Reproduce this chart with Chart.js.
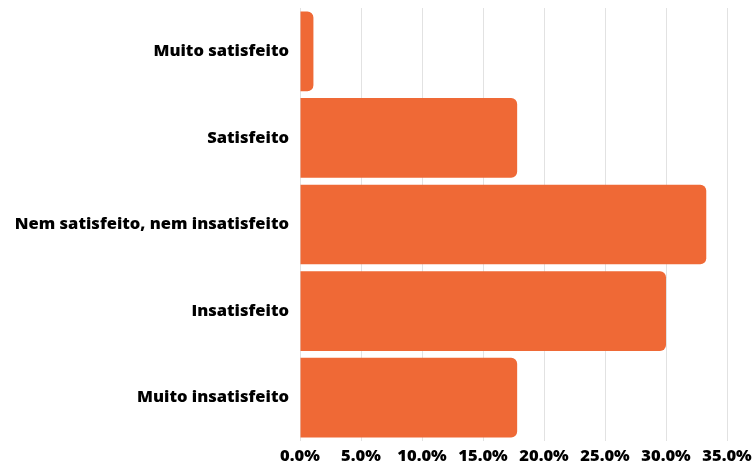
<!DOCTYPE html>
<html>
<head>
<meta charset="utf-8">
<script src="https://cdn.jsdelivr.net/npm/chart.js@4/dist/chart.umd.min.js"></script>
<style>
  html, body { margin: 0; padding: 0; background: #fff; }
  #wrap { width: 752px; height: 461px; }
</style>
</head>
<body>
<div id="wrap"><canvas id="barChart"></canvas></div>
<script>
// categories and values (percent)
const categories = ["Muito satisfeito", "Satisfeito", "Nem satisfeito, nem insatisfeito", "Insatisfeito", "Muito insatisfeito"];
const percentValues = [1.1, 17.8, 33.3, 30.0, 17.8];
const tickMax = 35;
const tickStep = 5;

new Chart("barChart", {
  type: "bar",
  data: {
    labels: categories,
    datasets: [{
      data: percentValues,
      backgroundColor: "#EF6936",
      borderRadius: { topRight: 6, bottomRight: 6 },
      borderSkipped: false,
      barPercentage: 0.92,
      categoryPercentage: 1
    }]
  },
  options: {
    indexAxis: "y",
    responsive: true,
    maintainAspectRatio: false,
    animation: false,
    layout: { padding: { top: 8, right: 25, bottom: 0, left: 10 } },
    plugins: { legend: { display: false }, tooltip: { enabled: false } },
    scales: {
      x: {
        min: 0,
        max: tickMax,
        ticks: {
          stepSize: tickStep,
          color: "#000",
          padding: 5,
          font: { family: "Open Sans", size: 16.5, weight: 800 },
          callback: function (v) { return v.toFixed(1) + "%"; }
        },
        grid: { color: "#e2e2e2", drawTicks: false },
        border: { display: false },
        afterFit: function (scale) {
          scale.height = 20;
          scale.paddingLeft = 0;
          scale.paddingRight = 0;
        }
      },
      y: {
        ticks: {
          color: "#000",
          padding: 3,
          font: { family: "Open Sans", size: 16.5, weight: 800 }
        },
        grid: { display: false },
        border: { display: false },
        afterFit: function (scale) {
          scale.width = 290;
          scale.paddingTop = 0;
          scale.paddingBottom = 0;
        }
      }
    }
  }
});
</script>
</body>
</html>
